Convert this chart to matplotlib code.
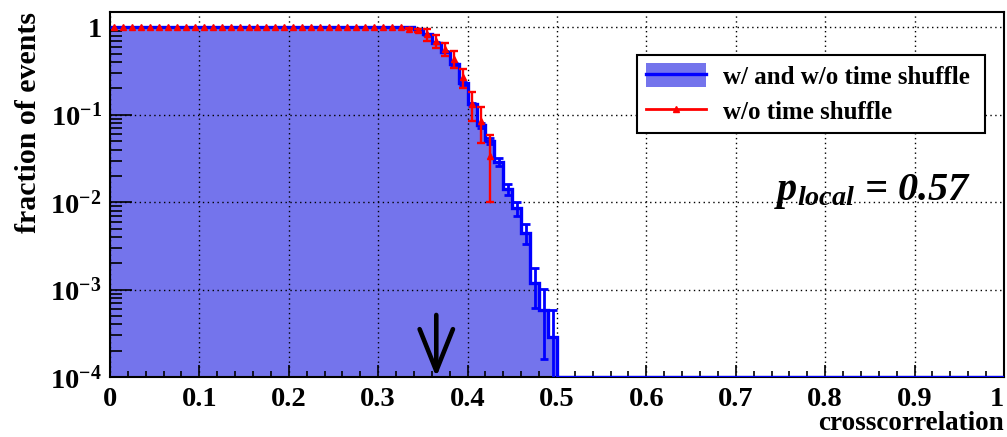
import matplotlib.pyplot as plt
import numpy as np
from matplotlib.patches import Patch
from matplotlib.lines import Line2D
from matplotlib.ticker import MultipleLocator, LogLocator, NullFormatter

plt.rcParams['font.family'] = 'Liberation Serif'
plt.rcParams['font.weight'] = 'bold'
plt.rcParams['axes.labelweight'] = 'bold'
plt.rcParams['mathtext.fontset'] = 'custom'
plt.rcParams['mathtext.rm'] = 'Liberation Serif:bold'
plt.rcParams['mathtext.it'] = 'Liberation Serif:italic:bold'
plt.rcParams['mathtext.bf'] = 'Liberation Serif:bold'

# histogram of crosscorrelation, 100 bins of width 0.01 from 0 to 1
bin_width = 0.01
n_bins = 100

# w/ and w/o time shuffle (blue)
blue = ([1.0] * 34 +
        [0.95, 0.83, 0.67, 0.53, 0.38, 0.23, 0.132, 0.076,
         0.050, 0.029, 0.0140, 0.0085, 0.0045, 0.0012, 0.00059, 0.00029] +
        [0.0] * 50)
blue_err = ([0.0] * 34 +
            [0.017, 0.016, 0.014, 0.012, 0.011, 0.008, 0.006, 0.0047,
             0.0038, 0.0029, 0.0020, 0.0016, 0.0012, 0.00058, 0.00043, 0.00030] +
            [0.0] * 50)

# w/o time shuffle (red), bins 0.00 .. 0.42
red = [1.0] * 33 + [0.97, 0.93, 0.83, 0.70, 0.57, 0.44, 0.27, 0.132, 0.085, 0.034]
red_err = [0.0] * 33 + [0.02, 0.04, 0.13, 0.12, 0.10, 0.10, 0.065, 0.048, 0.038, 0.024]

observed = 0.365
p_local = 0.57

x_ticks = [0, 0.1, 0.2, 0.3, 0.4, 0.5, 0.6, 0.7, 0.8, 0.9, 1.0]
x_labels = ['0', '0.1', '0.2', '0.3', '0.4', '0.5', '0.6', '0.7', '0.8', '0.9', '1']
y_ticks = [1e-4, 1e-3, 1e-2, 1e-1, 1]
y_labels = [r'$10^{-4}$', r'$10^{-3}$', r'$10^{-2}$', r'$10^{-1}$', '1']

edges = np.arange(n_bins + 1) * bin_width
centers = edges[:-1] + bin_width / 2
blue = np.array(blue)
blue_err = np.array(blue_err)
red = np.array(red)
red_err = np.array(red_err)
red_x = centers[:len(red)]

fill_color = '#7474ec'
ymin, ymax = 1e-4, 1.5

fig = plt.figure(figsize=(10.07, 4.37), dpi=100)
ax = fig.add_axes([0.1092, 0.1373, 0.8878, 0.8352])
ax.set_yscale('log')

blue_draw = np.clip(blue, ymin, None)
ax.stairs(blue_draw, edges, baseline=1e-6, fill=True, color=fill_color, zorder=1)
ax.stairs(blue_draw, edges, baseline=None, color='blue', lw=2.4, zorder=3)
m = blue_err > 0
ax.errorbar(centers[m], blue[m], yerr=blue_err[m], fmt='none', ecolor='blue',
            elinewidth=2, capsize=3, capthick=2, zorder=3)

ax.plot(red_x, red, '^', color='red', ms=4.5, zorder=4)
m = red_err > 0
ax.errorbar(red_x[m], red[m], yerr=red_err[m], fmt='none', ecolor='red',
            elinewidth=1.7, capsize=3, capthick=1.7, zorder=4)

ax.set_xlim(0, 1)
ax.set_ylim(ymin, ymax)

ax.grid(True, which='major', color='black', linestyle=(0, (1, 2.5)), lw=1)
ax.set_axisbelow(False)

ax.set_xticks(x_ticks, x_labels)
ax.xaxis.set_minor_locator(MultipleLocator(0.02))
ax.set_yticks(y_ticks, y_labels)
ax.yaxis.set_minor_locator(LogLocator(subs=range(2, 10)))
ax.yaxis.set_minor_formatter(NullFormatter())

ax.tick_params(axis='both', which='both', direction='in', top=False, right=False,
               width=1.2, labelsize=20.5)
ax.tick_params(axis='x', which='major', length=9, pad=7)
ax.tick_params(axis='x', which='minor', length=4.5)
ax.tick_params(axis='y', which='major', length=16, pad=6)
ax.tick_params(axis='y', which='minor', length=8.5)
for s in ax.spines.values():
    s.set_linewidth(1.5)

# keep the last x label inside the figure
ax.get_xticklabels()[-1].set_ha('right')

ax.set_xlabel('crosscorrelation', fontsize=19.5, loc='right')
ax.xaxis.set_label_coords(1.0, -0.092)
ax.set_ylabel('fraction of events', fontsize=21.5, loc='top')
ax.yaxis.set_label_coords(-0.076, 1.0)

handles = [(Patch(facecolor=fill_color, edgecolor='none'), Line2D([], [], color='blue', lw=2.4)),
           Line2D([], [], color='red', lw=2, marker='^', ms=4.5)]
leg = ax.legend(handles, ['w/ and w/o time shuffle', 'w/o time shuffle'],
                loc='lower left', bbox_to_anchor=(0.5895, 0.668, 0.3895, 0.206),
                mode='expand', borderaxespad=0, fancybox=False, framealpha=1,
                edgecolor='black', fontsize=18, handlelength=2.4, handletextpad=0.7,
                handleheight=1.1, labelspacing=0.4, borderpad=0.35)
leg.get_frame().set_linewidth(1.5)

ax.annotate('', xy=(observed, 0.0), xytext=(observed, 0.17),
            xycoords=('data', 'axes fraction'),
            arrowprops=dict(arrowstyle='->,head_length=1.5,head_width=0.6',
                            mutation_scale=20, lw=3.3, color='black',
                            shrinkA=0, shrinkB=0))

ax.text(0.963, 0.485, r'$p_{local}$ = %.2f' % p_local, transform=ax.transAxes,
        ha='right', va='baseline', fontsize=29, fontstyle='italic', fontweight='bold')

fig.savefig('out.png', dpi=100)
